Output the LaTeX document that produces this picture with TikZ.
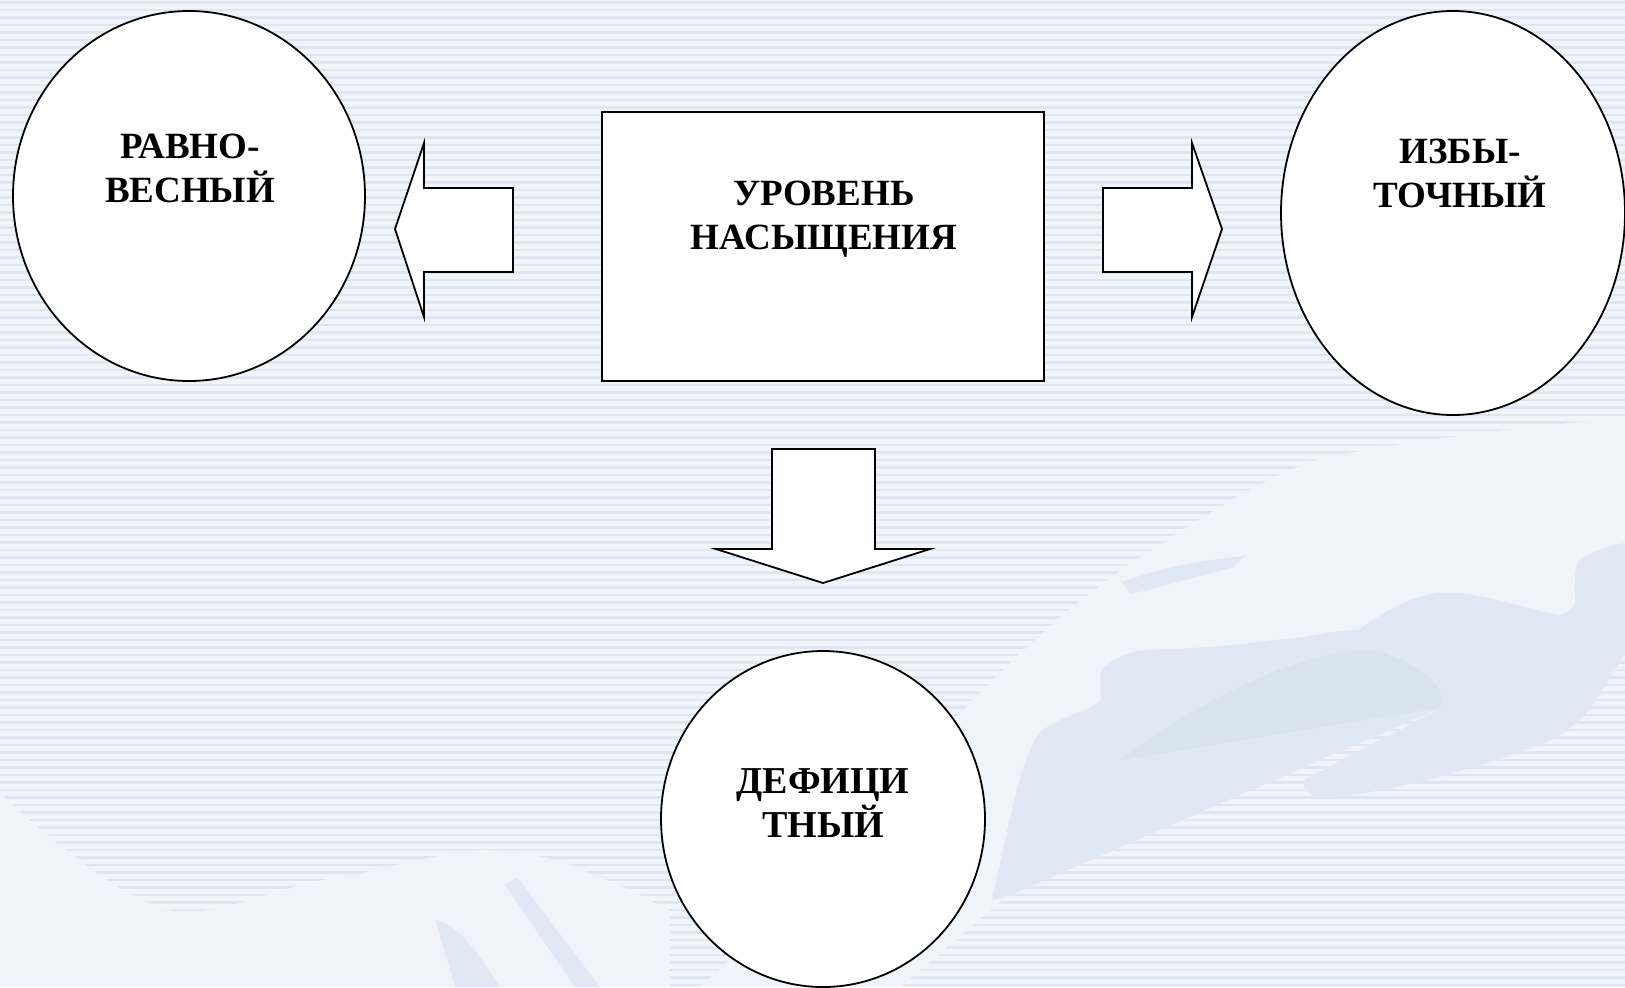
\documentclass[tikz,border=0pt]{standalone}
\usepackage{fontspec}
\setmainfont{Liberation Serif}
\usetikzlibrary{shapes.geometric}
\definecolor{bgpale}{HTML}{F1F5FA}
\definecolor{bgline}{HTML}{DDE6F2}
\definecolor{handlt}{HTML}{EFF4FA}
\definecolor{handdk}{HTML}{E0E9F3}
\definecolor{palm}{HTML}{D9E3EE}
\tikzset{
	oval/.style={ellipse, draw, fill=white, line width=0.9pt, inner sep=0pt},
	box/.style={rectangle, draw, fill=white, line width=0.9pt, inner sep=0pt},
	blockarrow/.style={draw, fill=white, line width=0.9pt, line join=miter},
	lbl/.style={align=center, inner sep=0pt, anchor=base, font=\bfseries\fontsize{18.5}{22}\selectfont},
}

\begin{document}
\begin{tikzpicture}[x=0.5pt, y=-0.5pt]
	\clip (0,0) rectangle (1625,987);
	\useasboundingbox (0,0) rectangle (1625,987);
	%% background
	\fill[bgpale] (0,0) rectangle (1625,987);
	\foreach \i in {0,...,131}
		\fill[bgline] (0,7.5*\i+1) rectangle (1625,7.5*\i+3.5);
	% hands
	\fill[handlt] (700,987) .. controls (800,900) and (900,780) .. (960,713)
		.. controls (1030,640) and (1100,580) .. (1160,545)
		.. controls (1220,505) and (1280,470) .. (1325,457)
		.. controls (1450,435) and (1540,425) .. (1625,418) -- (1625,653)
		.. controls (1600,690) and (1590,725) .. (1540,745)
		.. controls (1470,770) and (1380,797) .. (1316,797)
		.. controls (1300,790) and (1300,780) .. (1313,775)
		.. controls (1360,750) and (1420,720) .. (1440,708)
		-- (1006,897) -- (900,987) -- cycle;
	\fill[handdk] (992,900) .. controls (1010,820) and (1020,760) .. (1039,733)
		.. controls (1060,715) and (1090,712) .. (1101,700)
		.. controls (1100,685) and (1100,672) .. (1103,667)
		.. controls (1120,655) and (1135,650) .. (1150,650)
		.. controls (1200,648) and (1240,645) .. (1274,640)
		.. controls (1310,638) and (1330,630) .. (1358,630)
		.. controls (1400,600) and (1430,590) .. (1455,593)
		.. controls (1490,595) and (1530,610) .. (1559,615)
		.. controls (1572,612) and (1575,605) .. (1575,600)
		.. controls (1574,580) and (1575,565) .. (1580,560)
		.. controls (1595,550) and (1610,545) .. (1625,543) -- (1625,653)
		.. controls (1600,690) and (1590,725) .. (1540,745)
		.. controls (1470,770) and (1380,797) .. (1316,797)
		.. controls (1300,790) and (1300,780) .. (1313,775)
		.. controls (1360,750) and (1420,720) .. (1440,708)
		-- (1006,897) -- cycle;
	\fill[palm] (1120,760) .. controls (1200,700) and (1300,650) .. (1370,650)
		.. controls (1420,660) and (1450,690) .. (1440,708) -- cycle;
	\fill[handdk] (1122,582) .. controls (1160,568) and (1200,560) .. (1245,556)
		-- (1232,568) .. controls (1200,575) and (1160,588) .. (1130,594) -- cycle;
	\fill[handlt] (0,793) .. controls (60,850) and (140,913) .. (189,913)
		.. controls (250,905) and (300,880) .. (344,877)
		.. controls (400,865) and (450,850) .. (488,850)
		.. controls (530,852) and (560,860) .. (574,867)
		.. controls (610,880) and (640,895) .. (670,910)
		-- (670,987) -- (0,987) -- cycle;
	\fill[handdk] (517,877) -- (600,987) -- (575,987) -- (505,885) -- cycle;
	\fill[handdk] (436,920) .. controls (455,925) and (470,940) .. (500,987)
		-- (455,987) .. controls (448,960) and (440,940) .. (436,920) -- cycle;

	%% shapes
	\node[oval, minimum width=176pt, minimum height=185pt] (ravn) at (189,196) {};
	\node[oval, minimum width=172pt, minimum height=202pt] (izb) at (1453,213) {};
	\node[oval, minimum width=162pt, minimum height=168pt] (defic) at (823,819) {};
	\node[box, minimum width=221pt, minimum height=134.5pt] (uroven) at (823,246.5) {};

	%% arrows
	\draw[blockarrow] (513,188) -- (424,188) -- (424,143) -- (395,229)
		-- (424,317) -- (424,272) -- (513,272) -- cycle;
	\draw[blockarrow] (1103,188) -- (1192,188) -- (1192,143) -- (1222,229)
		-- (1192,317) -- (1192,272) -- (1103,272) -- cycle;
	\draw[blockarrow] (772,449) -- (875,449) -- (875,549) -- (930,549)
		-- (823,583) -- (716,549) -- (772,549) -- cycle;

	%% labels (base = last line)
	\node[lbl] (ravnT) at (190,202) {РАВНО-\\ВЕСНЫЙ};
	\node[lbl] (izbT) at (1460,207) {ИЗБЫ-\\ТОЧНЫЙ};
	\node[lbl] (urovenT) at (824,249) {УРОВЕНЬ\\НАСЫЩЕНИЯ};
	\node[lbl, font=\bfseries\fontsize{19}{22}\selectfont] (deficT) at (823,837) {ДЕФИЦИ\\ТНЫЙ};
\end{tikzpicture}
\end{document}
